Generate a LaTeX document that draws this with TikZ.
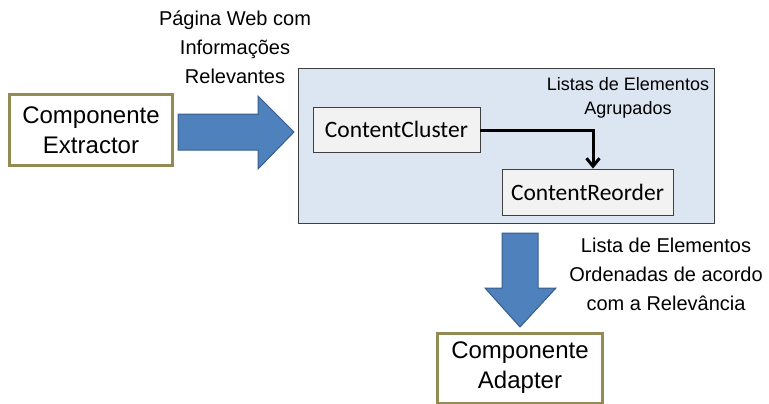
\documentclass[tikz,border=0pt]{standalone}
\usepackage{fontspec}
\setmainfont{Liberation Sans}
\newfontfamily\boxfont{Carlito}
\usetikzlibrary{arrows.meta}

\definecolor{olivebox}{HTML}{948A54}
\definecolor{blockblue}{HTML}{4F81BD}
\definecolor{blockedge}{HTML}{385D8A}
\definecolor{panelblue}{HTML}{DCE6F2}
\definecolor{cardgray}{HTML}{F2F2F2}
\definecolor{edgegray}{HTML}{404040}

\tikzset{
  component/.style={draw=olivebox, line width=3pt, fill=white, align=center,
    font=\fontsize{24}{30}\selectfont, inner sep=0pt},
  panel/.style={draw=edgegray, line width=1pt, fill=panelblue},
  card/.style={draw=edgegray, line width=0.8pt, fill=cardgray,
    font=\boxfont\fontsize{23.5}{27}\selectfont, inner sep=0pt},
  caption/.style={align=center, font=\fontsize{20}{29}\selectfont, inner sep=0pt},
  blockarrow/.style={draw=blockedge, line width=1pt, fill=blockblue, line join=miter},
  flow/.style={line width=3pt, -{Straight Barb[length=8pt, width=13pt, line width=3pt]}}
}

\begin{document}
\begin{tikzpicture}[x=1pt, y=-1pt]
  \useasboundingbox (0,0) rectangle (769,404);

  % source and target components
  \node[component, minimum width=163pt, minimum height=70pt] (extractor) at (91,130)
    {Componente\\Extractor};
  \node[component, minimum width=165pt, minimum height=70pt] (adapter) at (520,368)
    {Componente\\Adapter};

  % processing panel
  \node[panel, minimum width=416pt, minimum height=155pt] (panel) at (506,146) {};
  \node[card, minimum width=167pt, minimum height=45pt] (cluster) at (396.5,129.5) {ContentCluster};
  \node[card, minimum width=171pt, minimum height=46pt] (reorder) at (587.5,192) {ContentReorder};
  \coordinate (bend) at (593,130);
  \draw[flow] (cluster.east |- bend) -- (bend) -- (bend |- reorder.north);

  % block arrows
  \draw[blockarrow] (178,114) -- (258,114) -- (258,96) -- (294,132) -- (258,169)
    -- (258,150) -- (178,150) -- cycle;
  \draw[blockarrow] (502,233) -- (538,233) -- (538,288) -- (556,288) -- (520,327)
    -- (485,288) -- (502,288) -- cycle;

  % captions
  \node[caption] (webpage) at (235,47) {Página Web com\\Informações\\Relevantes};
  \node[caption, font=\fontsize{18}{24}\selectfont] (grouped) at (628,98) {Listas de Elementos\\Agrupados};
  \node[caption] (ordered) at (666,274) {Lista de Elementos\\Ordenadas de acordo\\com a Relevância};
\end{tikzpicture}
\end{document}
